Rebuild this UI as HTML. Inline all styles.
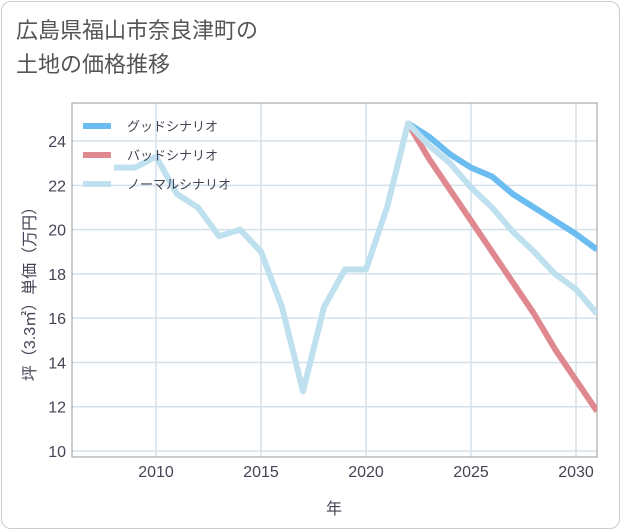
<!DOCTYPE html>
<html><head><meta charset="utf-8"><style>
body{margin:0;background:#fff;font-family:"Liberation Sans","Noto Sans CJK JP",sans-serif;}
.card{position:absolute;left:1px;top:1px;width:617px;height:526px;border:1px solid #ccc;border-radius:10px;background:#fff;}
.title{position:absolute;left:16px;top:14px;font-size:22px;line-height:34px;color:#555;}
</style></head><body>
<div class="card"></div>
<div class="title">広島県福山市奈良津町の<br>土地の価格推移</div>
<svg id="chart" width="621" height="530" style="position:absolute;left:0;top:0"></svg>
<script>
const years=[2008,2009,2010,2011,2012,2013,2014,2015,2016,2017,2018,2019,2020,2021,2022,2023,2024,2025,2026,2027,2028,2029,2030,2031];
const normal=[22.8,22.8,23.3,21.6,21.0,19.7,20.0,19.0,16.5,12.7,16.5,18.2,18.2,21.0,24.8,23.8,23.0,21.9,21.0,19.9,19.0,18.0,17.3,16.2];
const goodYears=[2022,2023,2024,2025,2026,2027,2028,2029,2030,2031];
const good=[24.8,24.2,23.4,22.8,22.4,21.6,21.0,20.4,19.8,19.1];
const bad=[24.8,23.2,21.8,20.4,19.0,17.6,16.2,14.6,13.2,11.8];
const xTicks=[2010,2015,2020,2025,2030];
const yTicks=[10,12,14,16,18,20,22,24];
const L=72,R=597,T=103,B=457;
const x=v=>156+(v-2010)*21;
const y=v=>451-(v-10)*22.14;
const svg=document.getElementById('chart');
const NS='http://www.w3.org/2000/svg';
function mk(t,a,p){const e=document.createElementNS(NS,t);for(const k in a)e.setAttribute(k,a[k]);(p||svg).appendChild(e);return e;}
for(const t of yTicks){
 const g=mk('line',{x1:L,x2:R,y1:y(t),y2:y(t),stroke:'#d5e0ea','stroke-width':1.5});
 
 
 const lb=mk('text',{x:L-6,y:y(t)+6,'text-anchor':'end','font-size':16,fill:'#445'});lb.textContent=t;
 
 
}
for(const t of xTicks){
 const g=mk('line',{x1:x(t),x2:x(t),y1:T,y2:B,stroke:'#d5e0ea','stroke-width':1.5});
 
 
 const lb=mk('text',{x:x(t),y:B+20,'text-anchor':'middle','font-size':16,fill:'#445'});lb.textContent=t;
 
 
}
const fr=mk('rect',{x:L,y:T,width:R-L,height:B-T,fill:'none',stroke:'#999','stroke-width':1});


const defs=mk('defs',{});const cp=mk('clipPath',{id:'c'},defs);mk('rect',{x:L,y:T,width:R-L,height:B-T},cp);
function line(xs,vs,col,name){
 const p=mk('polyline',{points:xs.map((v,i)=>x(v)+','+y(vs[i])).join(' '),fill:'none',stroke:col,'stroke-width':6,'stroke-linejoin':'round','clip-path':'url(#c)'});
 
 
}
line(goodYears,bad,'#e0888f','bad-scenario-line');
line(goodYears,good,'#6bbcf0','good-scenario-line');
line(years,normal,'#bfe0ee','normal-scenario-line');
const leg=[['グッドシナリオ','#6bbcf0'],['バッドシナリオ','#e0888f'],['ノーマルシナリオ','#bfe0ee']];
leg.forEach((l,i)=>{
 const yy=126+i*29;
 const s=mk('line',{x1:83,x2:111,y1:yy,y2:yy,stroke:l[1],'stroke-width':6});
 
 
 const t=mk('text',{x:127,y:yy+5,'font-size':13,fill:'#445'});t.textContent=l[0];
 
 
});
const xt=mk('text',{x:334,y:514,'text-anchor':'middle','font-size':16,fill:'#445'});xt.textContent='年';


const yt=mk('text',{x:0,y:0,'text-anchor':'middle','font-size':16,fill:'#445',transform:'translate(35,290) rotate(-90)'});yt.textContent='坪（3.3㎡）単価（万円）';


</script>
</body></html>
